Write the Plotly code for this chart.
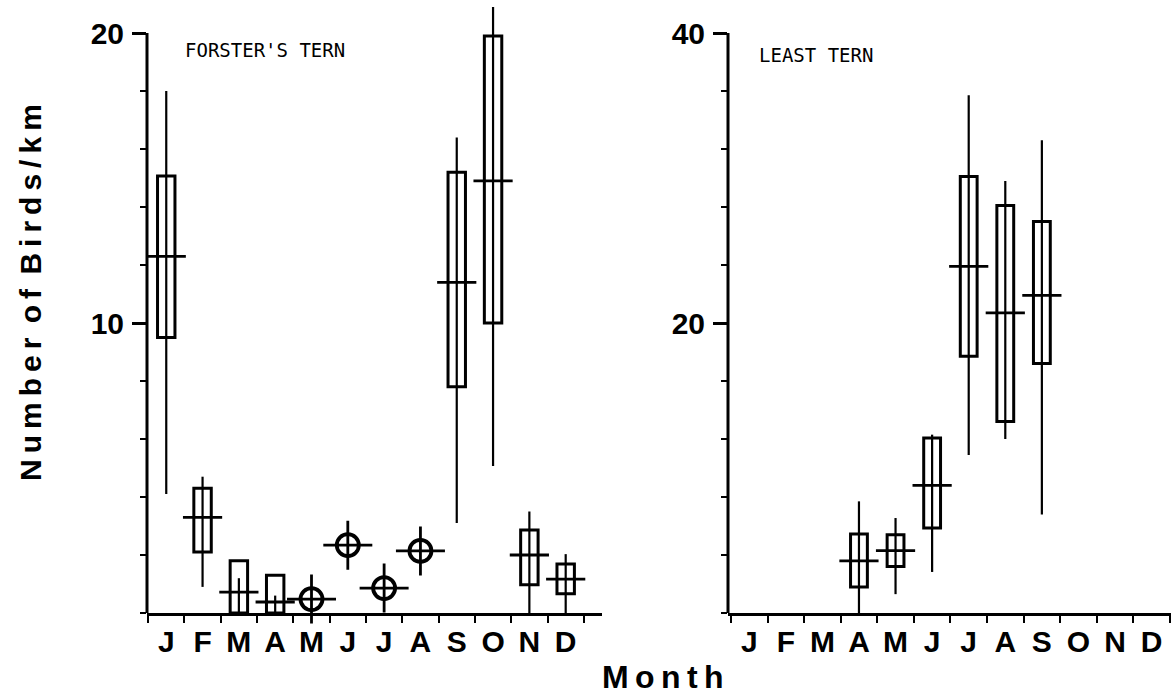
import plotly.graph_objects as go

months = ["J", "F", "M", "A", "M", "J", "J", "A", "S", "O", "N", "D"]

# Forster's Tern: monthly summaries (birds/km)
ft_box_month = [0, 1, 2, 3, 8, 9, 10, 11]
ft_low = [4.1, 0.9, 0.0, 0.0, 3.1, 5.07, 0.0, 0.0]
ft_q1 = [9.5, 2.1, 0.0, 0.0, 7.8, 10.0, 0.97, 0.66]
ft_med = [12.3, 3.3, 0.72, 0.38, 11.4, 14.9, 2.0, 1.17]
ft_q3 = [15.07, 4.3, 1.8, 1.3, 15.2, 19.9, 2.86, 1.69]
ft_high = [18.0, 4.7, 1.2, 0.6, 16.4, 20.9, 3.5, 2.03]
ft_single_month = [4, 5, 6, 7]
ft_single_val = [0.48, 2.34, 0.86, 2.14]

# Least Tern: monthly summaries (birds/km)
lt_box_month = [3, 4, 5, 6, 7, 8]
lt_low = [0.0, 1.3, 2.83, 10.9, 12.0, 6.8]
lt_q1 = [1.8, 3.2, 5.86, 17.7, 13.2, 17.2]
lt_med = [3.6, 4.3, 8.8, 23.9, 20.7, 21.9]
lt_q3 = [5.45, 5.4, 12.07, 30.1, 28.1, 27.0]
lt_high = [7.7, 6.55, 12.3, 35.7, 29.8, 32.6]

W, H = 1171, 698
INK = "black"
LABEL_FONT = "Liberation Sans, Arial"
THIN = "\u2009"


def spaced(text):
    # spread letters apart, keeping a wider gap between words
    return (" " + THIN).join(THIN.join(word) for word in text.split(" "))


def centers(idx):
    return [i + 0.5 for i in idx]


def add_boxes(fig, xa, ya, idx, low, q1, med, q3, high, width):
    xs = centers(idx)
    fig.add_trace(go.Bar(
        x=xs, base=q1, y=[b - a for a, b in zip(q1, q3)], width=width,
        marker=dict(color="rgba(0,0,0,0)", line=dict(color=INK, width=3)),
        xaxis=xa, yaxis=ya, showlegend=False, hoverinfo="skip"))
    fig.add_trace(go.Scatter(
        x=xs, y=med, mode="markers",
        marker=dict(symbol="line-ew", size=28, color=INK, line=dict(color=INK, width=2.8)),
        error_y=dict(type="data", symmetric=False,
                     array=[h - m for h, m in zip(high, med)],
                     arrayminus=[m - l for m, l in zip(med, low)],
                     width=0, thickness=2.2, color=INK),
        xaxis=xa, yaxis=ya, showlegend=False, cliponaxis=False))


fig = go.Figure()
add_boxes(fig, "x", "y", ft_box_month, ft_low, ft_q1, ft_med, ft_q3, ft_high, 0.48)
add_boxes(fig, "x2", "y2", lt_box_month, lt_low, lt_q1, lt_med, lt_q3, lt_high, 0.46)

# single observations: circle with crosshair
fig.add_trace(go.Scatter(
    x=centers(ft_single_month), y=ft_single_val, mode="markers",
    marker=dict(symbol="cross-thin-open", size=35, color=INK, line=dict(color=INK, width=2.8)),
    xaxis="x", yaxis="y", showlegend=False, cliponaxis=False))
fig.add_trace(go.Scatter(
    x=centers(ft_single_month), y=ft_single_val, mode="markers",
    marker=dict(symbol="circle-open", size=22, color=INK, line=dict(color=INK, width=3.8)),
    xaxis="x", yaxis="y", showlegend=False, cliponaxis=False))

xcommon = dict(
    tickmode="array", tickvals=centers(range(12)), ticktext=months, ticks="",
    tickfont=dict(family=LABEL_FONT, size=30, color=INK, weight="bold"),
    ticklabelstandoff=0,
    minor=dict(tickmode="linear", tick0=0, dtick=1, ticks="outside", ticklen=7,
               tickwidth=2, tickcolor=INK),
    showline=True, linecolor=INK, linewidth=3, showgrid=False, zeroline=False,
    fixedrange=True)

ycommon = dict(
    ticks="outside", ticklen=14, tickwidth=2.5, tickcolor=INK,
    tickfont=dict(family=LABEL_FONT, size=30, color=INK, weight="bold"),
    ticklabelstandoff=2, showline=False, showgrid=False, zeroline=False,
    fixedrange=True)

fig.update_layout(
    width=W, height=H, plot_bgcolor="white", paper_bgcolor="white",
    margin=dict(l=0, r=0, t=0, b=85), showlegend=False, barmode="overlay",
    xaxis=dict(domain=[147 / W, 602 / W], range=[-0.03, 12.5], anchor="y", **xcommon),
    xaxis2=dict(domain=[728 / W, 1.0], range=[-0.08, 12.03], anchor="y2", **xcommon),
    yaxis=dict(domain=[0, 1], range=[0, 613 / 29.0], anchor="x",
               tickmode="array", tickvals=[10, 20], ticktext=["10", "20"],
               minor=dict(tickmode="linear", tick0=0, dtick=2, ticks="outside",
                          ticklen=6, tickwidth=2, tickcolor=INK),
               **ycommon),
    yaxis2=dict(domain=[0, 1], range=[0, 613 / 14.5], anchor="x2",
                tickmode="array", tickvals=[20, 40], ticktext=["20", "40"],
                minor=dict(tickmode="linear", tick0=0, dtick=4, ticks="outside",
                           ticklen=6, tickwidth=2, tickcolor=INK),
                **ycommon),
)

# vertical axis spines, stopping at the top labelled value
fig.add_shape(type="line", xref="x domain", yref="y", x0=0, x1=0, y0=0, y1=20,
              line=dict(color=INK, width=3))
fig.add_shape(type="line", xref="x2 domain", yref="y2", x0=0, x1=0, y0=0, y1=40,
              line=dict(color=INK, width=3))

fig.add_annotation(text="FORSTER'S TERN", xref="paper", yref="paper",
                   x=183 / W, y=(613 - 50) / 613, xanchor="left", yanchor="middle",
                   showarrow=False, font=dict(family="DejaVu Sans Mono", size=19, color=INK))
fig.add_annotation(text="LEAST TERN", xref="paper", yref="paper",
                   x=757 / W, y=(613 - 55) / 613, xanchor="left", yanchor="middle",
                   showarrow=False, font=dict(family="DejaVu Sans Mono", size=19, color=INK))

fig.add_annotation(text=spaced("Number of Birds/km"), xref="paper", yref="paper",
                   x=30 / W, y=(613 - 293) / 613, textangle=-90,
                   xanchor="center", yanchor="middle", showarrow=False,
                   font=dict(family=LABEL_FONT, size=30, color=INK, weight="bold"))
fig.add_annotation(text=spaced("Month"), xref="paper", yref="paper",
                   x=663 / W, y=(613 - 697) / 613, xanchor="center", yanchor="bottom",
                   showarrow=False,
                   font=dict(family=LABEL_FONT, size=32, color=INK, weight="bold"))

fig.write_html("out.html")
